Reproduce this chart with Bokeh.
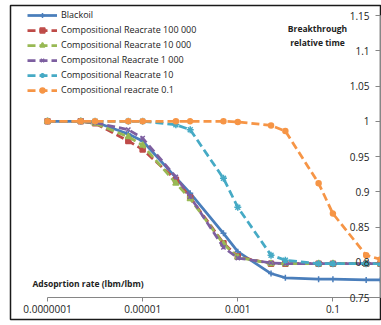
import math
from bokeh.plotting import figure
from bokeh.models import FixedTicker, Range1d, Legend, LegendItem, Label
from bokeh.embed import file_html
from bokeh.resources import INLINE

# ---------------- data ----------------
rate = [1e-7, 5e-7, 1e-6, 5e-6, 1e-5, 5e-5, 1e-4, 5e-4, 1e-3, 5e-3, 1e-2, 5e-2, 1e-1, 5e-1, 1.0]
blackoil = [1.0, 1.0, 0.999, 0.982, 0.972, 0.920, 0.898, 0.841, 0.815, 0.784, 0.778, 0.776, 0.776, 0.775, 0.775]
comp_100000 = [1.0, 1.0, 0.997, 0.972, 0.960, 0.917, 0.892, 0.827, 0.808, 0.798, 0.798, 0.798, 0.798, 0.798, 0.798]
comp_10000 = [1.0, 1.0, 0.997, 0.978, 0.966, 0.912, 0.890, 0.826, 0.807, 0.798, 0.798, 0.798, 0.798, 0.798, 0.798]
comp_1000 = [1.0, 1.0, 0.998, 0.988, 0.976, 0.921, 0.893, 0.821, 0.806, 0.799, 0.798, 0.798, 0.798, 0.798, 0.798]
comp_10 = [1.0, 1.0, 1.0, 1.0, 1.0, 0.995, 0.988, 0.919, 0.878, 0.810, 0.803, 0.798, 0.798, 0.798, 0.798]
comp_01 = [1.0, 1.0, 1.0, 1.0, 1.0, 1.0, 1.0, 1.0, 0.999, 0.994, 0.986, 0.912, 0.869, 0.810, 0.804]

series_names = ["Blackoil", "Compositional Reacrate 100 000", "Compositional Reacrate 10 000",
                "Compositonal Reacrate 1 000", "Compositional Reacrate 10", "Compositional reacrate 0.1"]
series_values = [blackoil, comp_100000, comp_10000, comp_1000, comp_10, comp_01]

x_ticks = [1e-7, 1e-5, 1e-3, 1e-1]
x_tick_labels = ["0.0000001", "0.00001", "0.001", "0.1"]
y_ticks = [0.75, 0.8, 0.85, 0.9, 0.95, 1.0, 1.05, 1.1, 1.15]
y_tick_labels = ["0.75", "0.8", "0.85", "0.9", "0.95", "1", "1.05", "1.1", "1.15"]

x_title = "Adsoprtion rate (lbm/lbm)"
y_title = "Breakthrough\nrelative time"

# ---------------- styles / layout ----------------
colors = ["#4A7EBB", "#BE4B48", "#98B954", "#7D5FA0", "#46AAC5", "#F69546"]
dashes = ["solid", "8 4", "8 4", "8 4", "8 4", "8 4"]
markers = ["cross", "square", "triangle", "x", "asterisk", "circle"]
msizes = [6, 5, 6, 6, 7, 5]
FONT = "Open Sans"
AXIS_GRAY = "#868686"
TXT = "#222222"

W, H = 381, 325
FL, FR, FT, FB = 10, 381, 5, 319          # chart-area (frame) box in canvas px
AX_L, AX_R, AX_T, AX_B = 47, 380, 15, 297  # plot-area box in canvas px

x_min, x_max = 1e-7, 1.0
y_min, y_max = 0.75, 1.15

ppd = (AX_R - AX_L) / (math.log10(x_max) - math.log10(x_min))
x_lo = 10 ** (math.log10(x_min) - (AX_L - FL) / ppd)
x_hi = 10 ** (math.log10(x_max) + (FR - AX_R) / ppd)
ppu = (AX_B - AX_T) / (y_max - y_min)
y_lo = y_min - (FB - AX_B) / ppu
y_hi = y_max + (AX_T - FT) / ppu

p = figure(width=W, height=H, x_axis_type="log",
           x_range=Range1d(x_lo, x_hi), y_range=Range1d(y_lo, y_hi),
           output_backend="svg", toolbar_location=None,
           min_border_left=FL, min_border_right=W - FR,
           min_border_top=FT, min_border_bottom=H - FB)
p.outline_line_color = "#1a1a1a"
p.outline_line_width = 1.5
p.xgrid.visible = False
p.ygrid.visible = False
p.background_fill_color = "white"
p.border_fill_color = "white"

# x axis, drawn at y = 0.75 inside the chart area
xa = p.xaxis[0]
xa.fixed_location = y_min
xa.bounds = (x_min, x_max)
xa.ticker = FixedTicker(ticks=x_ticks, minor_ticks=[])
xa.major_label_overrides = {t: l for t, l in zip(x_ticks, x_tick_labels)}
xa.axis_line_color = AXIS_GRAY
xa.major_tick_line_color = AXIS_GRAY
xa.major_tick_out = 4
xa.major_tick_in = 0
xa.minor_tick_line_color = None
xa.major_label_standoff = 3
xa.major_label_text_font = FONT
xa.major_label_text_font_size = "10px"
xa.major_label_text_color = TXT

# y axis, drawn at x = 1 (right end), labels to its left
ya = p.yaxis[0]
ya.fixed_location = x_max
ya.bounds = (y_min, y_max)
ya.ticker = FixedTicker(ticks=y_ticks, minor_ticks=[])
ya.major_label_overrides = {t: l for t, l in zip(y_ticks, y_tick_labels)}
ya.axis_line_color = AXIS_GRAY
ya.major_tick_line_color = AXIS_GRAY
ya.major_tick_out = 5
ya.major_tick_in = 0
ya.minor_tick_line_color = None
ya.major_label_standoff = 6
ya.major_label_text_font = FONT
ya.major_label_text_font_size = "10px"
ya.major_label_text_color = TXT

items = []
for name, vals, c, d, m, s in zip(series_names, series_values, colors, dashes, markers, msizes):
    r1 = p.line(rate, vals, line_color=c, line_width=2.75, line_dash=d)
    r2 = p.scatter(rate, vals, marker=m, size=s, line_color=c, fill_color=c, line_width=1.5)
    items.append(LegendItem(label=name, renderers=[r1, r2]))

legend = Legend(items=items, location=(27 - FL, FB - 96), orientation="vertical",
                glyph_width=30, glyph_height=12, label_height=12, spacing=2,
                padding=0, margin=0, label_standoff=4,
                label_text_font=FONT, label_text_font_size="9px",
                label_text_color=TXT,
                border_line_color=None, background_fill_alpha=0)
p.add_layout(legend)

p.add_layout(Label(x=32 - FL, y=FB - 283, x_units="screen", y_units="screen", text=x_title,
                   text_font=FONT, text_font_size="8.5px", text_font_style="bold",
                   text_baseline="middle", text_color=TXT))
p.add_layout(Label(x=317 - FL, y=FB - 35, x_units="screen", y_units="screen", text=y_title,
                   text_font=FONT, text_font_size="8.5px", text_font_style="bold",
                   text_align="center", text_baseline="middle", text_color=TXT))

open("out.html", "w").write(file_html(p, INLINE))
